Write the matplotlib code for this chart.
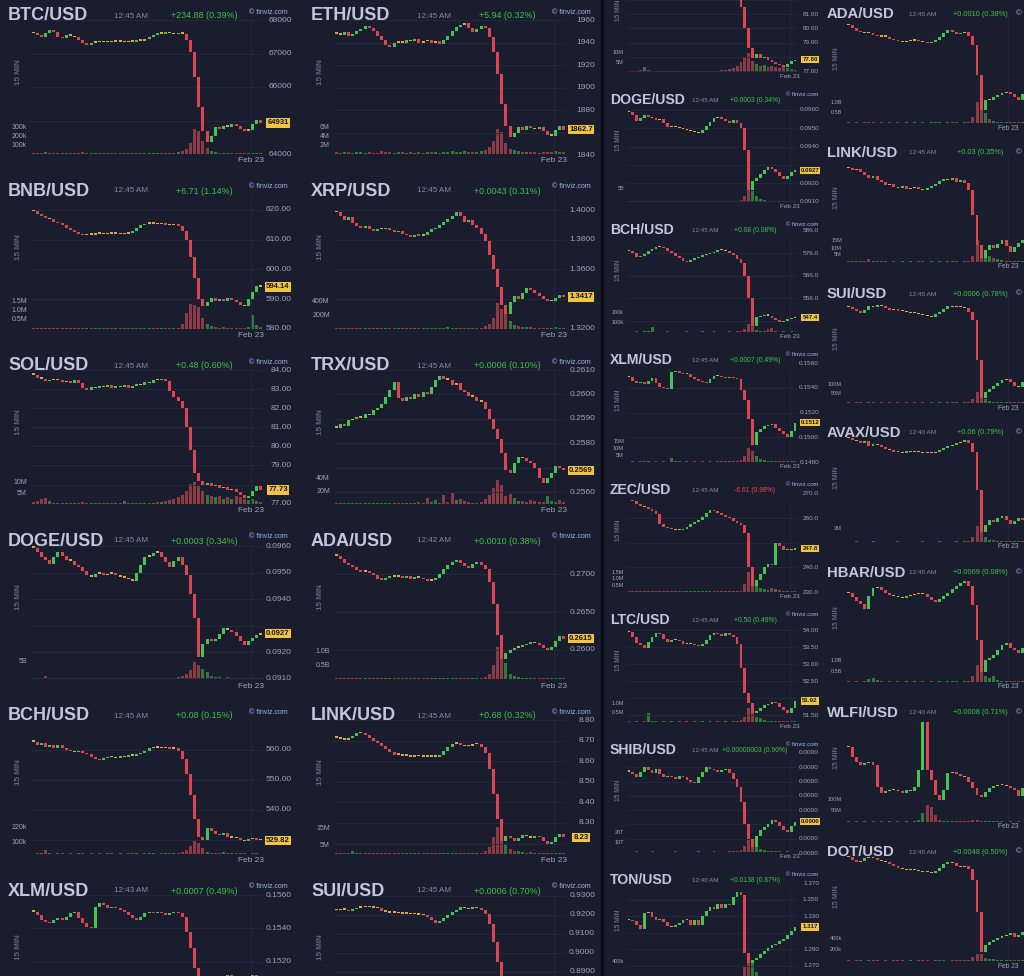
import matplotlib
matplotlib.use("Agg")
import matplotlib.pyplot as plt
from matplotlib.patches import Rectangle
from matplotlib.transforms import blended_transform_factory as blend

plt.rcParams['font.family'] = ['Liberation Sans', 'DejaVu Sans']

W, H = 1024, 976
BG = "#1a1d2e"
GRID = "#262a3f"
TITLE = "#c4c7dc"
MUTED = "#878ba3"
LABEL = "#a0a4ba"
UP, DOWN, FLAT = "#45c454", "#dc4650", "#d8aa4c"
VUP, VDOWN = "#2e7a3b", "#8e3a45"
TAG = "#f2c443"
COPY = "#a9b4e8"
POS, NEG = "#3dc24c", "#e04a4a"

# ---------------- left block : 2 columns x 6 rows, 56 candles each ----------------
btc_close = [67600, 67550, 67500, 67620, 67700, 67650,
             67500, 67450, 67550, 67520, 67480,
             67400, 67300, 67250, 67320, 67350,
             67330, 67360, 67340, 67380, 67350,
             67360, 67330, 67370, 67350, 67400,
             67380, 67420, 67500, 67550, 67620,
             67580, 67640, 67600, 67570, 67620, 67590,
             67400, 67050, 66300, 65400, 64700, 64350, 64550,
             64800, 64750, 64850, 64820, 64900, 64850,
             64750, 64700, 64720, 64900, 65000, 64931]
btc_vol = [12, 10, 15, 22, 10, 8, 10, 12, 9, 8, 10, 14, 18, 12, 10, 9, 8, 10, 12, 9,
           8, 10, 9, 12, 10, 8, 9, 10, 14, 12, 10, 9, 11, 10, 12, 18,
           30, 60, 120, 280, 260, 150, 70, 35, 20, 15, 12, 14, 10, 9, 12, 14, 10, 15, 12, 10]

eth_close = [1948, 1947, 1949, 1946, 1948, 1950,
             1952, 1955, 1953, 1950, 1946,
             1942, 1938, 1936, 1940, 1941,
             1940, 1942, 1941, 1943, 1940,
             1941, 1942, 1940, 1941, 1939,
             1942, 1946, 1950, 1954, 1956,
             1957, 1953, 1949, 1952, 1955, 1953,
             1945, 1932, 1912, 1885, 1866, 1856, 1860,
             1865, 1862, 1866, 1864, 1863, 1865,
             1861, 1858, 1857, 1862, 1866, 1862.7]
eth_vol = [0.4, 0.3, 0.5, 0.4, 0.3, 0.4, 0.5, 0.3, 0.4, 0.3, 0.3, 0.7, 0.5, 0.4, 0.3, 0.4, 0.5, 0.3, 0.4, 0.3,
           0.4, 0.3, 0.4, 0.5, 0.4, 0.3, 0.4, 0.5, 0.6, 0.5, 0.4, 0.6, 0.5, 0.4, 0.5, 0.6,
           0.8, 1.5, 3.0, 5.5, 5.0, 2.5, 1.2, 0.8, 0.6, 0.5, 0.4, 0.5, 0.4, 0.3, 0.4, 0.5, 0.4, 0.6, 0.5, 0.4]

bnb_close = [619.5, 618.8, 618.0, 617.2, 616.8, 616.0,
             615.5, 614.8, 614.0, 613.2, 612.5,
             612.0, 611.5, 611.8, 611.6, 611.9,
             612.0, 611.8, 612.1, 611.9, 612.0,
             611.8, 612.0, 612.3, 613.0, 614.0,
             614.8, 615.3, 615.6, 615.4, 615.2,
             615.5, 615.0, 614.8, 615.2, 614.5, 613.0,
             610.0, 604.0, 597.0, 590.0, 587.5, 589.0, 590.5,
             589.5, 590.0, 589.2, 590.3, 589.8, 589.0,
             588.0, 587.6, 590.0, 592.5, 594.5, 594.14]
bnb_vol = [0.05, 0.04, 0.08, 0.05, 0.04, 0.06, 0.05, 0.04, 0.05, 0.04, 0.04, 0.06, 0.05, 0.04, 0.05, 0.04,
           0.04, 0.05, 0.04, 0.04, 0.05, 0.04, 0.04, 0.05, 0.06, 0.05, 0.04, 0.05, 0.06, 0.05, 0.04, 0.05,
           0.06, 0.05, 0.05, 0.08, 0.3, 0.9, 1.4, 1.3, 1.2, 0.6, 0.3, 0.15, 0.1, 0.08, 0.1, 0.08, 0.06, 0.05,
           0.06, 0.08, 0.1, 0.8, 0.2, 0.1]

xrp_close = [1.3985, 1.3960, 1.3930, 1.3950, 1.3910, 1.3890,
             1.3880, 1.3895, 1.3870, 1.3860, 1.3875,
             1.3870, 1.3880, 1.3865, 1.3850, 1.3860,
             1.3840, 1.3830, 1.3820, 1.3835, 1.3825,
             1.3830, 1.3850, 1.3870, 1.3880, 1.3900,
             1.3920, 1.3940, 1.3960, 1.3985, 1.3960,
             1.3920, 1.3930, 1.3900, 1.3880, 1.3840, 1.3790,
             1.3700, 1.3600, 1.3480, 1.3360, 1.3300, 1.3380, 1.3420,
             1.3400, 1.3440, 1.3475, 1.3460, 1.3440, 1.3420,
             1.3400, 1.3385, 1.3390, 1.3410, 1.3430, 1.3417]
xrp_vol = [15, 12, 18, 14, 20, 12, 10, 14, 12, 10, 12, 15, 12, 10, 12, 14, 10, 12, 10, 12,
           10, 12, 14, 12, 15, 18, 20, 25, 22, 18, 15, 14, 12, 15, 18, 20,
           40, 80, 160, 380, 300, 220, 120, 60, 40, 30, 25, 30, 20, 18, 15, 20, 18, 25, 20, 15]

sol_close = [83.75, 83.60, 83.55, 83.40, 83.50, 83.45,
             83.50, 83.35, 83.40, 83.30, 83.45,
             83.30, 83.05, 82.95, 83.10, 83.05,
             83.15, 83.10, 83.20, 83.05, 83.15,
             83.10, 83.20, 83.05, 83.15, 83.25,
             83.20, 83.35, 83.30, 83.50, 83.45,
             83.55, 83.40, 82.90, 82.60, 82.40, 82.00,
             81.00, 79.80, 78.60, 78.20, 78.00, 78.10, 77.90,
             78.00, 77.80, 77.85, 77.70, 77.75, 77.60,
             77.45, 77.30, 77.40, 77.65, 77.90, 77.73]
sol_vol = [0.8, 1.5, 2.5, 2.8, 1.2, 0.6, 0.5, 0.6, 0.5, 0.4, 0.5, 0.6, 0.8, 0.6, 0.5, 0.4, 0.5, 0.4, 0.5, 0.4,
           0.5, 0.6, 1.5, 0.6, 0.5, 0.4, 0.5, 0.6, 0.5, 0.6, 0.8, 1.0, 1.5, 2.0, 2.5, 3.0,
           4.0, 6.0, 9.0, 10.0, 8.0, 6.0, 4.0, 3.5, 3.0, 3.5, 2.5, 3.0, 2.5, 3.5, 3.0, 2.5, 2.0, 2.5, 1.5, 1.0]

trx_close = [0.25865, 0.25880, 0.25870, 0.25895, 0.25900, 0.25910,
             0.25905, 0.25920, 0.25915, 0.25935, 0.25945,
             0.25960, 0.25990, 0.26020, 0.26050, 0.25985,
             0.25975, 0.25990, 0.25980, 0.26000, 0.25990,
             0.26010, 0.26000, 0.26030, 0.26060, 0.26075,
             0.26065, 0.26060, 0.26040, 0.26045, 0.26020,
             0.26010, 0.25995, 0.25990, 0.25975, 0.25970, 0.25940,
             0.25900, 0.25860, 0.25820, 0.25760, 0.25690, 0.25680, 0.25720,
             0.25745, 0.25740, 0.25730, 0.25720, 0.25700, 0.25660,
             0.25640, 0.25660, 0.25680, 0.25710, 0.25700, 0.25690]
trx_vol = [1, 1, 1.5, 1, 1, 1, 1.5, 1, 1, 1, 1, 1, 1.5, 1, 1, 1, 1, 1, 1, 2,
           3, 2, 10, 3, 6, 2, 14, 3, 18, 6, 8, 5, 3, 2, 2, 3,
           8, 15, 25, 38, 30, 12, 16, 10, 5, 4, 3, 6, 4, 3, 3, 12, 4, 3, 6, 3]

doge_close = [0.09595, 0.09580, 0.09560, 0.09550, 0.09535, 0.09560,
              0.09580, 0.09565, 0.09550, 0.09545, 0.09530,
              0.09520, 0.09505, 0.09490, 0.09485, 0.09495,
              0.09500, 0.09490, 0.09495, 0.09500, 0.09490,
              0.09485, 0.09480, 0.09475, 0.09470, 0.09500,
              0.09530, 0.09560, 0.09565, 0.09575, 0.09580,
              0.09560, 0.09540, 0.09520, 0.09545, 0.09560, 0.09530,
              0.09490, 0.09420, 0.09330, 0.09180, 0.09230, 0.09250, 0.09240,
              0.09250, 0.09270, 0.09290, 0.09285, 0.09275, 0.09260,
              0.09240, 0.09225, 0.09240, 0.09255, 0.09265, 0.09270]
doge_vol = [0.3, 0.2, 0.4, 0.8, 0.3, 0.2, 0.3, 0.2, 0.3, 0.2, 0.2, 0.3, 0.2, 0.2, 0.3, 0.2, 0.2, 0.3, 0.2, 0.2,
            0.3, 0.2, 0.2, 0.3, 0.2, 0.3, 0.4, 0.3, 0.2, 0.3, 0.3, 0.2, 0.3, 0.3, 0.4, 0.5,
            0.8, 1.5, 2.5, 5.0, 4.0, 3.0, 2.0, 1.0, 0.6, 0.5, 0.4, 0.5, 0.4, 0.3, 0.3, 0.4, 0.3, 0.4, 0.3, 0.3]

ada_close = [0.2724, 0.2720, 0.2714, 0.2712, 0.2709, 0.2705,
             0.2703, 0.2704, 0.2701, 0.2699, 0.2694,
             0.2692, 0.2695, 0.2697, 0.2696, 0.2697,
             0.2695, 0.2697, 0.2694, 0.2696, 0.2695,
             0.2693, 0.2691, 0.2692, 0.2695, 0.2700,
             0.2706, 0.2712, 0.2716, 0.2719, 0.2714,
             0.2710, 0.2708, 0.2713, 0.2716, 0.2712, 0.2706,
             0.2690, 0.2660, 0.2620, 0.2588, 0.2596, 0.2600, 0.2603,
             0.2604, 0.2606, 0.2608, 0.2610, 0.2609, 0.2607,
             0.2603, 0.2600, 0.2604, 0.2612, 0.2619, 0.2615]
ada_vol = [0.03, 0.02, 0.03, 0.02, 0.03, 0.04, 0.03, 0.02, 0.03, 0.02, 0.03, 0.02, 0.03, 0.02, 0.03, 0.02,
           0.03, 0.02, 0.03, 0.02, 0.03, 0.02, 0.03, 0.02, 0.03, 0.04, 0.03, 0.02, 0.03, 0.04, 0.03, 0.02,
           0.03, 0.04, 0.03, 0.04, 0.08, 0.2, 0.5, 1.2, 1.0, 0.6, 0.2, 0.1, 0.06, 0.05, 0.04, 0.05, 0.04, 0.03,
           0.04, 0.03, 0.04, 0.05, 0.04, 0.03]

bch_close = [562.7, 561.8, 562.3, 561.0, 561.5, 560.8,
             561.5, 560.5, 560.0, 559.5, 559.2,
             559.8, 559.0, 558.5, 557.8, 557.0,
             556.5, 557.2, 557.8, 557.5, 557.2,
             557.9, 557.6, 558.2, 558.0, 558.5,
             559.0, 559.8, 560.5, 560.8, 561.0,
             560.6, 560.9, 560.4, 560.7, 559.8, 557.0,
             552.0, 545.0, 537.0, 531.0, 530.0, 534.0, 533.0,
             532.0, 531.5, 532.2, 531.0, 530.8, 530.5,
             530.0, 529.6, 530.2, 530.5, 530.0, 529.82]
bch_vol = [4, 5, 8, 30, 6, 4, 5, 6, 4, 5, 4, 6, 5, 4, 5, 4, 5, 4, 5, 6,
           4, 5, 4, 5, 6, 5, 4, 5, 6, 5, 4, 5, 6, 5, 6, 8,
           15, 35, 70, 110, 90, 50, 20, 10, 8, 10, 20, 8, 6, 5, 6, 5, 4, 6, 5, 4]

link_close = [8.713, 8.710, 8.705, 8.712, 8.720, 8.735,
              8.738, 8.725, 8.712, 8.700, 8.690,
              8.675, 8.660, 8.645, 8.632, 8.630,
              8.625, 8.628, 8.622, 8.626, 8.624,
              8.620, 8.625, 8.622, 8.620, 8.632,
              8.650, 8.670, 8.685, 8.690, 8.678,
              8.672, 8.675, 8.682, 8.685, 8.670, 8.640,
              8.560, 8.440, 8.320, 8.215, 8.235, 8.225, 8.215,
              8.225, 8.240, 8.235, 8.228, 8.238, 8.230,
              8.215, 8.200, 8.210, 8.230, 8.245, 8.23]
link_vol = [0.4, 0.3, 0.5, 0.4, 1.5, 0.6, 0.4, 0.3, 0.4, 0.3, 0.3, 0.4, 0.3, 0.4, 0.3, 0.4, 0.3, 0.4, 0.5, 0.3,
            0.4, 0.3, 0.4, 0.3, 0.4, 0.5, 0.4, 0.3, 0.4, 0.5, 0.4, 0.5, 0.4, 0.5, 0.6, 0.8,
            1.5, 4.0, 10.0, 16.0, 13.0, 6.0, 3.0, 2.0, 1.5, 1.0, 0.8, 1.0, 0.8, 0.6, 0.5, 0.6, 0.5, 0.8, 0.6, 0.5]

xlm_close = [0.1550, 0.1548, 0.1545, 0.1544, 0.1543, 0.1545,
             0.1546, 0.1545, 0.1547, 0.1549, 0.1550,
             0.1546, 0.1543, 0.1541, 0.1540, 0.1553,
             0.1555, 0.1554, 0.1552, 0.1553, 0.1552,
             0.1551, 0.1550, 0.1548, 0.1546, 0.1545,
             0.1547, 0.1549, 0.1550, 0.1549, 0.1550,
             0.1549, 0.1548, 0.1549, 0.1550, 0.1549, 0.1547,
             0.1538, 0.1528, 0.1516, 0.1500, 0.1495, 0.1500, 0.1505,
             0.1507, 0.1508, 0.1510, 0.1512, 0.1509, 0.1507,
             0.1506, 0.1508, 0.1510, 0.1512, 0.1511, 0.1510]

sui_close = [0.9225, 0.9232, 0.9228, 0.9220, 0.9230, 0.9238,
             0.9242, 0.9240, 0.9245, 0.9238, 0.9235,
             0.9222, 0.9215, 0.9210, 0.9212, 0.9208,
             0.9205, 0.9207, 0.9204, 0.9205, 0.9200,
             0.9198, 0.9190, 0.9175, 0.9160, 0.9170,
             0.9185, 0.9200, 0.9215, 0.9228, 0.9240,
             0.9235, 0.9230, 0.9240, 0.9236, 0.9225, 0.9205,
             0.9150, 0.9060, 0.8950, 0.8820, 0.8800, 0.8820, 0.8830,
             0.8825, 0.8830, 0.8835, 0.8840, 0.8830, 0.8825,
             0.8820, 0.8825, 0.8830, 0.8840, 0.8845, 0.8842]

# ---------------- right block, column C : 44 candles each ----------------
solc_close = [83.7, 83.6, 83.5, 83.4, 83.5, 83.4, 83.3, 83.1, 83.0, 83.1,
              83.0, 83.1, 83.1, 83.2, 83.1, 83.2, 83.1, 83.2, 83.3, 83.4,
              83.5, 83.4, 83.5, 83.5, 83.4, 83.3, 83.0, 82.6, 82.2, 81.5,
              80.0, 78.6, 77.9,
              78.2, 77.9, 78.0, 77.8, 77.6, 77.5, 77.4, 77.3, 77.5, 77.7, 77.8]
solc_vol = [0.5, 0.6, 0.5, 1.2, 2.5, 1.0, 0.5, 0.4, 0.5, 0.6, 0.5, 0.4, 0.5, 0.4, 0.5, 0.4, 0.5, 0.4, 0.5, 0.4,
            0.5, 0.6, 0.5, 0.6, 0.8, 1.0, 1.5, 2.0, 3.0, 5.0, 8.0, 10.0, 6.0, 4.0,
            3.0, 3.5, 2.5, 3.0, 2.5, 2.0, 2.5, 2.0, 1.5, 1.0]

dogec_close = [0.09590, 0.09570, 0.09540, 0.09555,
               0.09570, 0.09560, 0.09555, 0.09545,
               0.09550, 0.09530, 0.09505, 0.09510,
               0.09505, 0.09500, 0.09495, 0.09490,
               0.09485, 0.09480, 0.09475, 0.09490,
               0.09510, 0.09535, 0.09555, 0.09560,
               0.09550, 0.09540, 0.09530, 0.09545,
               0.09530, 0.09500,
               0.09380, 0.09160, 0.09210,
               0.09230, 0.09250, 0.09270, 0.09290,
               0.09280, 0.09260, 0.09240, 0.09225,
               0.09240, 0.09260, 0.09270]
dogec_vol = [0.3, 0.2, 0.3, 0.4, 0.3, 0.2, 0.3, 0.2, 0.3, 0.2, 0.2, 0.3, 0.2, 0.3, 0.2, 0.3, 0.2, 0.3, 0.2, 0.3,
             0.2, 0.3, 0.4, 0.3, 0.2, 0.3, 0.2, 0.3, 0.4, 0.6, 2.0, 5.0, 4.0, 2.0,
             1.0, 0.6, 0.5, 0.4, 0.5, 0.4, 0.3, 0.4, 0.3, 0.3]

bchc_close = [577.0, 575.8, 574.3, 574.8,
              575.5, 577.0, 577.8, 578.6,
              578.7, 578.2, 577.0, 575.8,
              574.5, 573.8, 572.6, 572.0,
              572.8, 573.6, 574.3, 575.0,
              575.5, 576.0, 576.6, 577.2,
              577.3, 577.0, 576.0, 575.0,
              573.5, 571.5,
              566.0, 556.0, 543.5,
              547.5, 548.0, 548.5, 548.2,
              547.0, 546.2, 545.5, 546.0,
              546.5, 547.0, 547.4]
bchc_vol = [5, 4, 6, 5, 8, 6, 50, 5, 4, 5, 6, 5, 4, 5, 4, 10, 5, 4, 5, 6,
            4, 5, 6, 5, 4, 5, 6, 5, 6, 8, 30, 80, 60, 25,
            12, 10, 30, 40, 6, 5, 6, 5, 6, 5]

xlmc_close = [0.1549, 0.1546, 0.1544, 0.1545,
              0.1543, 0.1546, 0.1548, 0.1544,
              0.1541, 0.1540, 0.1539, 0.1553,
              0.1554, 0.1552, 0.1551, 0.1551,
              0.1549, 0.1547, 0.1546, 0.1545,
              0.1544, 0.1547, 0.1550, 0.1550,
              0.1549, 0.1548, 0.1549, 0.1548,
              0.1547, 0.1538,
              0.1530, 0.1515, 0.1494,
              0.1504, 0.1507, 0.1509, 0.1510,
              0.1511, 0.1508, 0.1505, 0.1503,
              0.1500, 0.1505, 0.1512]
xlmc_vol = [0.3, 0.4, 0.3, 0.5, 0.8, 0.4, 0.3, 0.4, 0.3, 0.4, 0.3, 3.0, 0.5, 0.4, 0.3, 0.4, 0.3, 0.4, 0.3, 0.4,
            0.3, 0.4, 0.3, 0.4, 0.5, 0.4, 0.5, 0.6, 0.8, 1.5, 4.0, 10.0, 8.0, 4.0,
            2.0, 1.5, 1.0, 0.8, 0.6, 0.5, 0.6, 0.5, 0.4, 0.5]

zecc_close = [267.7, 266.8, 265.5, 264.8,
              264.5, 263.6, 262.8, 261.5,
              257.5, 256.5, 256.0, 255.5,
              255.2, 255.0, 255.6, 256.5,
              257.5, 258.3, 259.0, 260.5,
              262.0, 263.3, 262.8, 262.0,
              261.2, 260.5, 259.8, 258.8,
              258.0, 257.0,
              254.0, 240.0, 232.5,
              235.0, 237.5, 240.3, 241.5,
              240.8, 249.8, 248.5, 247.0,
              247.5, 247.2, 247.8]
zecc_vol = [0.05, 0.04, 0.06, 0.05, 0.04, 0.05, 0.06, 0.05, 0.04, 0.05, 0.04, 0.05, 0.04, 0.05, 0.06, 0.05,
            0.04, 0.05, 0.04, 0.05, 0.06, 0.05, 0.04, 0.05, 0.06, 0.05, 0.04, 0.05, 0.06, 0.1,
            0.6, 1.5, 1.2, 0.5, 0.3, 0.2, 0.15, 0.3, 0.2, 0.15, 0.1, 0.08, 0.06, 0.05]

ltcc_close = [53.94, 53.80, 53.62, 53.55,
              53.47, 53.65, 53.80, 53.92,
              53.88, 53.75, 53.65, 53.70,
              53.72, 53.68, 53.60, 53.58,
              53.59, 53.55, 53.52, 53.58,
              53.70, 53.85, 53.92, 53.88,
              53.82, 53.90, 53.86, 53.80,
              53.60, 52.90,
              52.15, 51.85, 51.56,
              51.62, 51.70, 51.80, 51.84,
              51.88, 51.85, 51.75, 51.65,
              51.56, 51.70, 51.92]
ltcc_vol = [0.03, 0.02, 0.03, 0.02, 0.03, 0.5, 0.04, 0.03, 0.02, 0.03, 0.02, 0.03, 0.02, 0.03, 0.02, 0.03,
            0.02, 0.03, 0.02, 0.03, 0.02, 0.03, 0.02, 0.03, 0.02, 0.03, 0.02, 0.03, 0.04, 0.1,
            0.3, 0.8, 0.6, 0.3, 0.2, 0.1, 0.08, 0.06, 0.05, 0.04, 0.05, 0.04, 0.03, 0.04]

shibc_close = [0.00001587, 0.00001585, 0.00001583, 0.00001587,
               0.00001590, 0.00001588, 0.00001586, 0.00001589,
               0.00001585, 0.00001583, 0.00001584, 0.00001583,
               0.00001582, 0.00001584, 0.00001583, 0.00001581,
               0.00001580, 0.00001579, 0.00001583, 0.00001587,
               0.00001590, 0.00001589, 0.00001588, 0.00001587,
               0.00001588, 0.00001589, 0.00001586, 0.00001582,
               0.00001576, 0.00001566,
               0.00001550, 0.00001540, 0.00001534,
               0.00001542, 0.00001546, 0.00001548, 0.00001550,
               0.00001553, 0.00001552, 0.00001549, 0.00001546,
               0.00001545, 0.00001549, 0.00001552]
shibc_vol = [0.5, 0.4, 0.6, 0.5, 0.4, 0.5, 0.6, 0.5, 0.4, 0.5, 0.4, 0.5, 0.6, 0.5, 0.4, 0.5, 0.4, 0.5, 0.6, 0.5,
             0.4, 0.5, 0.6, 0.5, 0.4, 0.5, 0.6, 0.8, 1.0, 2.0, 6.0, 12.0, 10.0, 5.0,
             3.0, 2.0, 1.5, 1.0, 0.8, 0.6, 0.5, 0.6, 0.5, 0.4]

tonc_close = [1.3254, 1.3240, 1.3200, 1.3140,
              1.3340, 1.3350, 1.3290, 1.3250,
              1.3270, 1.3230, 1.3180, 1.3170,
              1.3190, 1.3220, 1.3250, 1.3260,
              1.3200, 1.3260, 1.3200, 1.3300,
              1.3360, 1.3410, 1.3390, 1.3450,
              1.3400, 1.3450, 1.3430, 1.3530,
              1.3590, 1.3560,
              1.2860, 1.2740, 1.2770,
              1.2800, 1.2850, 1.2880, 1.2917,
              1.2950, 1.2970, 1.3000, 1.3030,
              1.3070, 1.3120, 1.3170]
tonc_vol = [20, 15, 25, 20, 15, 20, 25, 20, 15, 20, 15, 20, 25, 20, 15, 20, 15, 20, 25, 20,
            15, 20, 25, 20, 15, 20, 25, 30, 40, 60, 300, 500, 400, 200,
            100, 80, 60, 50, 40, 30, 25, 30, 25, 20]

# ---------------- right block, column D (cut at the right edge) ----------------
adad_close = [0.2720, 0.2715, 0.2711, 0.2709,
              0.2708, 0.2707, 0.2705, 0.2703,
              0.2702, 0.2702, 0.2699, 0.2697,
              0.2695, 0.2694, 0.2695, 0.2696,
              0.2697, 0.2695, 0.2694, 0.2692,
              0.2694, 0.2697, 0.2702, 0.2708,
              0.2712, 0.2709, 0.2706, 0.2708,
              0.2709, 0.2703,
              0.2689, 0.2643, 0.2590,
              0.2605, 0.2605, 0.2610, 0.2613,
              0.2616, 0.2617, 0.2614, 0.2610,
              0.2605, 0.2614, 0.2620]
adad_vol = [0.03, 0.02, 0.03, 0.02, 0.03, 0.04, 0.03, 0.02, 0.03, 0.02, 0.03, 0.02, 0.03, 0.02, 0.03, 0.02,
            0.03, 0.02, 0.03, 0.02, 0.03, 0.04, 0.03, 0.02, 0.03, 0.04, 0.03, 0.02, 0.03, 0.05,
            0.3, 1.0, 0.9, 0.5, 0.2, 0.1, 0.06, 0.05, 0.04, 0.03, 0.04, 0.03, 0.04, 0.03]

linkd_close = [8.735, 8.725, 8.730, 8.715,
               8.700, 8.685, 8.695, 8.675,
               8.665, 8.650, 8.655, 8.640,
               8.635, 8.645, 8.630, 8.635,
               8.640, 8.630, 8.625, 8.635,
               8.645, 8.655, 8.670, 8.680,
               8.675, 8.685, 8.665, 8.675,
               8.660, 8.625,
               8.500, 8.350, 8.285,
               8.325, 8.350, 8.335, 8.355,
               8.375, 8.345, 8.315, 8.340,
               8.360, 8.375, 8.385]
linkd_vol = [0.5, 0.4, 0.6, 0.5, 0.4, 2.0, 0.5, 0.4, 0.5, 0.4, 0.3, 0.4, 0.3, 0.4, 0.3, 0.4, 0.3, 0.4, 0.5, 0.3,
             0.4, 0.3, 0.4, 0.3, 0.4, 0.5, 0.4, 0.3, 0.4, 0.8, 4.0, 16.0, 12.0, 6.0,
             4.0, 3.0, 2.0, 1.5, 1.0, 0.8, 0.6, 0.5, 0.6, 0.5]

suid_close = [0.9289, 0.9279, 0.9268, 0.9258,
              0.9274, 0.9295, 0.9289, 0.9300,
              0.9295, 0.9284, 0.9274, 0.9279,
              0.9268, 0.9268, 0.9263, 0.9258,
              0.9258, 0.9253, 0.9247, 0.9242,
              0.9237, 0.9253, 0.9263, 0.9279,
              0.9295, 0.9289, 0.9295, 0.9289,
              0.9284, 0.9263,
              0.9221, 0.9011, 0.8811,
              0.8842, 0.8858, 0.8874, 0.8889,
              0.8905, 0.8911, 0.8895, 0.8874,
              0.8868, 0.8895, 0.8905]
suid_vol = [3, 2, 4, 3, 2, 6, 3, 2, 3, 2, 3, 2, 3, 2, 3, 2, 3, 2, 3, 2,
            3, 2, 3, 2, 3, 4, 3, 2, 3, 5, 20, 60, 45, 20,
            10, 8, 6, 5, 4, 3, 4, 3, 4, 3]

avaxd_close = [19.08, 19.00, 18.96, 18.88,
               18.96, 18.76, 18.84, 18.80,
               18.72, 18.64, 18.60, 18.52,
               18.52, 18.48, 18.56, 18.52,
               18.56, 18.52, 18.48, 18.52,
               18.48, 18.52, 18.60, 18.68,
               18.76, 18.80, 18.88, 18.92,
               19.00, 18.88,
               18.52, 17.00, 15.32,
               15.60, 15.80, 15.72, 15.88,
               15.96, 15.80, 15.64, 15.76,
               15.88, 15.80, 15.72]
avaxd_vol = [0.1, 0.08, 0.12, 0.1, 0.08, 0.1, 0.12, 0.1, 0.08, 0.1, 0.08, 0.1, 0.12, 0.1, 0.08, 0.1,
             0.08, 0.1, 0.12, 0.1, 0.08, 0.1, 0.12, 0.1, 0.08, 0.1, 0.12, 0.1, 0.15, 0.2,
             1.0, 3.5, 2.5, 1.0, 0.5, 0.4, 0.3, 0.25, 0.2, 0.15, 0.2, 0.15, 0.12, 0.1]

hbard_close = [0.2374, 0.2366, 0.2358, 0.2352,
               0.2342, 0.2368, 0.2384, 0.2386,
               0.2380, 0.2374, 0.2370, 0.2368,
               0.2366, 0.2364, 0.2368, 0.2370,
               0.2372, 0.2374, 0.2372, 0.2366,
               0.2360, 0.2356, 0.2362, 0.2368,
               0.2374, 0.2382, 0.2388, 0.2394,
               0.2398, 0.2388,
               0.2350, 0.2280, 0.2216,
               0.2240, 0.2244, 0.2250, 0.2260,
               0.2270, 0.2274, 0.2264, 0.2260,
               0.2254, 0.2264, 0.2276]
hbard_vol = [0.03, 0.02, 0.03, 0.02, 0.05, 0.15, 0.2, 0.08, 0.03, 0.02, 0.03, 0.02, 0.03, 0.02, 0.03, 0.02,
             0.03, 0.02, 0.03, 0.02, 0.03, 0.02, 0.03, 0.02, 0.03, 0.04, 0.03, 0.02, 0.03, 0.05,
             0.3, 0.8, 0.6, 0.3, 0.2, 0.3, 0.1, 0.06, 0.05, 0.04, 0.04, 0.03, 0.04, 0.03]

wlfid_close = [0.1365, 0.1315, 0.1290, 0.1275,
               0.1285, 0.1290, 0.1275, 0.1165,
               0.1135, 0.1145, 0.1150, 0.1150,
               0.1145, 0.1135, 0.1150, 0.1145,
               0.1165, 0.1250, 0.1490, 0.1250,
               0.1200, 0.1125, 0.1100, 0.1150,
               0.1235, 0.1240, 0.1230, 0.1220,
               0.1215, 0.1190,
               0.1160, 0.1125, 0.1115,
               0.1140, 0.1160, 0.1170, 0.1175,
               0.1175, 0.1170, 0.1160, 0.1150,
               0.1120, 0.1160, 0.1175]
wlfid_vol = [3, 2, 3, 2, 3, 2, 3, 2, 3, 2, 3, 2, 3, 2, 3, 2, 5, 10, 40, 75,
             70, 30, 8, 5, 4, 3, 4, 3, 3, 5, 8, 10, 6, 5,
             4, 3, 4, 3, 2, 3, 2, 3, 2, 3]

dotd_close = [4.800, 4.785, 4.775, 4.780,
              4.795, 4.800, 4.795, 4.785,
              4.780, 4.775, 4.765, 4.755,
              4.745, 4.740, 4.735, 4.740,
              4.735, 4.730, 4.725, 4.725,
              4.720, 4.730, 4.745, 4.765,
              4.775, 4.770, 4.755, 4.750,
              4.755, 4.740,
              4.685, 4.525, 4.325,
              4.360, 4.375, 4.385, 4.395,
              4.405, 4.410, 4.420, 4.400,
              4.410, 4.425, 4.435]
dotd_vol = [10, 8, 12, 10, 8, 10, 12, 10, 8, 10, 8, 10, 12, 10, 8, 10, 8, 10, 12, 10,
            8, 10, 12, 10, 8, 10, 12, 10, 15, 20, 80, 130, 120, 60,
            40, 30, 25, 20, 15, 12, 15, 12, 10, 10]

# layout of the three panel sizes, in pixels relative to the panel origin
LAYOUT = {
    "big": dict(cx=30, cw=232, top=20, bot=154, title=(7, 16, 13), time=(130, 16, 5.8),
                chg=(203, 16, 6.4), copy=(267, 12, 5.0), lab=291, labfs=6.0, tag=277, tagfs=5.6,
                mins=(17, 72, 5.8), vlab=26, vfs=5.0, feb=(250, 161), febfs=6.0),
    "small": dict(cx=22, cw=170, top=10, bot=102, title=(5, 0, 10.1), time=(100, 0, 4.5),
                  chg=(150, 0, 4.9), copy=(197, -5, 4.2), lab=214, labfs=4.6, tag=205, tagfs=4.4,
                  mins=(13, 40, 4.8), vlab=19, vfs=4.0, feb=(185, 107), febfs=4.6),
    "side": dict(cx=24, cw=183, top=4, bot=109, title=(5, 0, 10.7), time=(101, 0, 4.6),
                 chg=(158, 0, 5.3), copy=(194, 0, 4.6), lab=None, labfs=5, tag=None, tagfs=5,
                 mins=(15, 45, 5.0), vlab=20, vfs=4.0, feb=(186, 114), febfs=4.8),
}

fig = plt.figure(figsize=(W / 100, H / 100), dpi=100, facecolor=BG)


def rect(x, y, w, h):
    return [x / W, 1 - (y + h) / H, w / W, h / H]


def ftext(x, y, s, **kw):
    fig.text(x / W, 1 - y / H, s, **kw)


def panel(kind, x0, y0, name, clock, change, closes, lims, ticks, fmt, tagfmt,
          vol=None, vmax=1, vticks=(), neg=False, header=True):
    L = LAYOUT[kind]
    n = len(closes)
    hpx = L['bot'] - L['top']
    r = rect(x0 + L['cx'], y0 + L['top'], L['cw'], hpx)
    opens = [closes[0]] + list(closes[:-1])
    span = lims[1] - lims[0]

    def ypix(v):  # pixel row of a price, only used to skip labels off the canvas
        return y0 + L['top'] + (lims[1] - v) / span * hpx

    if vol is not None:
        vax = fig.add_axes(r)
        vax.set_axis_off()
        vax.set_xlim(-0.5, n - 0.5)
        vax.set_ylim(0, vmax)
        vcol = [VUP if c > o else VDOWN for o, c in zip(opens, closes)]
        vax.bar(range(n), vol, width=0.72, color=vcol, linewidth=0)
        vt = blend(vax.transAxes, vax.transData)
        vx = (L['vlab'] - L['cx']) / L['cw']
        for v, s in vticks:
            if y0 + L['bot'] - v / vmax * hpx < H - 4:
                vax.text(vx, v, s, transform=vt, ha='right', va='center', fontsize=L['vfs'],
                         color=LABEL, clip_on=False)

    ax = fig.add_axes(r)
    ax.set_axis_off()
    ax.set_xlim(-0.5, n - 0.5)
    ax.set_ylim(*lims)
    for t in ticks:
        ax.axhline(t, color=GRID, lw=0.6, zorder=0)
    febx = -0.5 + (L['feb'][0] - L['cx']) / L['cw'] * n
    ax.axvline(febx, color=GRID, lw=0.6, zorder=0)

    # candles: open = previous close
    cols, lows, hts = [], [], []
    for o, c in zip(opens, closes):
        d = c - o
        if abs(d) < 0.011 * span:
            cols.append(FLAT)
        else:
            cols.append(UP if d > 0 else DOWN)
        lows.append(min(o, c))
        hts.append(max(abs(d), 0.012 * span))
    ax.bar(range(n), hts, bottom=lows, width=0.7, color=cols, linewidth=0, zorder=3)

    tr = blend(ax.transAxes, ax.transData)
    if L['lab'] is not None:
        last = closes[-1]
        tag_on = ypix(last) < H - 12
        lx = (L['lab'] - L['cx']) / L['cw']
        for t in ticks:
            if ypix(t) < 4 or ypix(t) > H - 4:
                continue
            if tag_on and abs(ypix(t) - ypix(last)) < 9:
                continue  # hidden under the price tag
            ax.text(lx, t, fmt.format(t), transform=tr, ha='right', va='center',
                    fontsize=L['labfs'], color=LABEL, clip_on=False, zorder=2)
        if tag_on:
            tx = (L['tag'] - L['cx']) / L['cw']
            ax.text(tx, last, tagfmt.format(last), transform=tr, ha='center', va='center',
                    fontsize=L['tagfs'], fontweight='bold', color="#14151c", clip_on=False, zorder=6,
                    bbox=dict(boxstyle='square,pad=0.18', fc=TAG, ec='none'))

    if header:
        tx_, ty_, tfs = L['title']
        ftext(x0 + tx_, y0 + ty_, name, ha='left', va='center', fontsize=tfs,
              fontweight='bold', color=TITLE)
        ftext(x0 + L['time'][0], y0 + L['time'][1], clock, ha='center', va='center',
              fontsize=L['time'][2], color=MUTED)
        ftext(x0 + L['chg'][0], y0 + L['chg'][1], change, ha='center', va='center',
              fontsize=L['chg'][2], color=NEG if neg else POS)
        if kind == "side":
            ftext(x0 + L['copy'][0], y0 + L['copy'][1], "\u00a9", ha='left', va='center',
                  fontsize=L['copy'][2] + 1, color=COPY)
        else:
            ftext(x0 + L['copy'][0], y0 + L['copy'][1], "\u00a9 finviz.com", ha='center',
                  va='center', fontsize=L['copy'][2], color=COPY)
    if y0 + L['mins'][1] + 20 < H:
        ftext(x0 + L['mins'][0], y0 + L['mins'][1], "15 MIN", rotation=90, ha='center',
              va='center', fontsize=L['mins'][2], fontweight='bold', color="#62667e")
    if y0 + L['feb'][1] < H - 4:
        ftext(x0 + L['feb'][0], y0 + L['feb'][1], "Feb 23", ha='center', va='center',
              fontsize=L['febfs'], color=LABEL)


# ---- left block ----
C0, C1 = 1, 304
panel("big", C0, 0, "BTC/USD", "12:45 AM", "+234.88 (0.39%)", btc_close, (64000, 68000),
      [68000, 67000, 66000, 65000, 64000], "{:.0f}", "{:.0f}",
      btc_vol, 1490, [(300, "300k"), (200, "200k"), (100, "100k")])
panel("big", C1, 0, "ETH/USD", "12:45 AM", "+5.94 (0.32%)", eth_close, (1841, 1960),
      [1960, 1940, 1920, 1900, 1880, 1860, 1840], "{:.0f}", "{:.1f}",
      eth_vol, 29.8, [(6, "6M"), (4, "4M"), (2, "2M")])
panel("big", C0, 175, "BNB/USD", "12:45 AM", "+6.71 (1.14%)", bnb_close, (579.9, 625.05),
      [620, 610, 600, 590, 580], "{:.2f}", "{:.2f}",
      bnb_vol, 7.4, [(1.5, "1.5M"), (1.0, "1.0M"), (0.5, "0.5M")])
panel("big", C1, 175, "XRP/USD", "12:45 AM", "+0.0043 (0.31%)", xrp_close, (1.3199, 1.4101),
      [1.40, 1.38, 1.36, 1.34, 1.32], "{:.4f}", "{:.4f}",
      xrp_vol, 1985, [(400, "400M"), (200, "200M")])
panel("big", C0, 350, "SOL/USD", "12:45 AM", "+0.48 (0.60%)", sol_close, (76.98, 84.0),
      [84, 83, 82, 81, 80, 79, 78, 77], "{:.2f}", "{:.2f}",
      sol_vol, 61, [(10, "10M"), (5, "5M")])
panel("big", C1, 350, "TRX/USD", "12:45 AM", "+0.0006 (0.10%)", trx_close, (0.25553, 0.2610),
      [0.2610, 0.2600, 0.2590, 0.2580, 0.2570, 0.2560], "{:.4f}", "{:.4f}",
      trx_vol, 214, [(40, "40M"), (20, "20M")])
panel("big", C0, 525, "DOGE/USD", "12:45 AM", "+0.0003 (0.34%)", doge_close, (0.09098, 0.09605),
      [0.0960, 0.0950, 0.0940, 0.0930, 0.0920, 0.0910], "{:.4f}", "{:.4f}",
      doge_vol, 39, [(5, "5B")])
panel("big", C1, 525, "ADA/USD", "12:42 AM", "+0.0010 (0.38%)", ada_close, (0.25618, 0.27382),
      [0.2700, 0.2650, 0.2600], "{:.4f}", "{:.4f}",
      ada_vol, 4.96, [(1.0, "1.0B"), (0.5, "0.5B")])
panel("big", C0, 700, "BCH/USD", "12:45 AM", "+0.08 (0.15%)", bch_close, (525.3, 570.0),
      [560, 550, 540, 530], "{:.2f}", "{:.2f}",
      bch_vol, 1117, [(220, "220k"), (100, "100k")])
panel("big", C1, 700, "LINK/USD", "12:45 AM", "+0.68 (0.32%)", link_close, (8.1495, 8.80),
      [8.80, 8.70, 8.60, 8.50, 8.40, 8.30, 8.20], "{:.2f}", "{:.2f}",
      link_vol, 79, [(15, "15M"), (5, "5M")])
panel("big", C0, 875, "XLM/USD", "12:43 AM", "+0.0007 (0.49%)", xlm_close, (0.14794, 0.15601),
      [0.1560, 0.1540, 0.1520], "{:.4f}", "{:.4f}")
panel("big", C1, 875, "SUI/USD", "12:45 AM", "+0.0006 (0.70%)", sui_close, (0.86, 0.9305),
      [0.93, 0.92, 0.91, 0.90, 0.89], "{:.4f}", "{:.4f}")

# ---- right block, column C ----
CC = 605
panel("small", CC, -30, "SOL/USD", "", "", solc_close, (76.93, 83.41),
      [82, 81, 80, 79, 78, 77], "{:.2f}", "{:.2f}",
      solc_vol, 48, [(10, "10M"), (5, "5M")], header=False)
panel("small", CC, 100, "DOGE/USD", "12:45 AM", "+0.0003 (0.34%)", dogec_close, (0.09097, 0.0960),
      [0.0960, 0.0950, 0.0940, 0.0930, 0.0920, 0.0910], "{:.4f}", "{:.4f}",
      dogec_vol, 33, [(5, "5B")])
panel("small", CC, 230, "BCH/USD", "12:45 AM", "+0.08 (0.08%)", bchc_close, (540.89, 581.78),
      [586, 576, 566, 556, 546], "{:.1f}", "{:.1f}",
      bchc_vol, 920, [(200, "200k"), (100, "100k")])
panel("small", CC, 360, "XLM/USD", "12:45 AM", "+0.0007 (0.49%)", xlmc_close, (0.148008, 0.155457),
      [0.1560, 0.1540, 0.1520, 0.1500, 0.1480], "{:.4f}", "{:.4f}",
      xlmc_vol, 66, [(15, "15M"), (10, "10M"), (5, "5M")])
panel("small", CC, 490, "ZEC/USD", "12:45 AM", "-6.61 (0.98%)", zecc_close, (230.04, 267.29),
      [270, 260, 250, 240, 230], "{:.1f}", "{:.1f}",
      zecc_vol, 6.9, [(1.5, "1.5M"), (1.0, "1.0M"), (0.5, "0.5M")], neg=True)
panel("small", CC, 620, "LTC/USD", "12:45 AM", "+0.50 (0.49%)", ltcc_close, (51.303, 54.0),
      [54.0, 53.5, 53.0, 52.5, 52.0, 51.5], "{:.2f}", "{:.2f}",
      ltcc_vol, 5.1, [(1.0, "1.0M"), (0.5, "0.5M")])
panel("small", CC, 750, "SHIB/USD", "12:45 AM", "+0.00000003 (0.90%)", shibc_close,
      (0.0000153077, 0.0000159510),
      [0.00001600, 0.00001590, 0.00001580, 0.00001570, 0.00001560, 0.00001550, 0.00001540, 0.00001530],
      "{:.4f}", "{:.4f}", shibc_vol, 92, [(20, "20T"), (10, "10T")])
panel("small", CC, 880, "TON/USD", "12:40 AM", "+0.0138 (0.87%)", tonc_close, (1.25072, 1.36157),
      [1.370, 1.350, 1.330, 1.310, 1.290, 1.270], "{:.3f}", "{:.3f}",
      tonc_vol, 1840, [(400, "400k"), (200, "200k")])

# ---- right block, column D ----
CD = 822
panel("side", CD, 14, "ADA/USD", "12:45 AM", "+0.0010 (0.38%)", adad_close, (0.25697, 0.27307),
      [], "{:.4f}", "{:.4f}", adad_vol, 5, [(1.0, "1.0B"), (0.5, "0.5B")])
panel("side", CD, 153, "LINK/USD", "12:45 AM", "+0.03 (0.35%)", linkd_close, (8.265, 8.79),
      [], "{:.2f}", "{:.2f}", linkd_vol, 75, [(15, "15M"), (10, "10M"), (5, "5M")])
panel("side", CD, 294, "SUI/USD", "12:45 AM", "+0.0006 (0.78%)", suid_close, (0.87842, 0.93368),
      [], "{:.4f}", "{:.4f}", suid_vol, 583, [(100, "100M"), (50, "50M")])
panel("side", CD, 433, "AVAX/USD", "12:40 AM", "+0.06 (0.79%)", avaxd_close, (14.92, 19.12),
      [], "{:.2f}", "{:.2f}", avaxd_vol, 22.5, [(3, "3M")])
panel("side", CD, 573, "HBAR/USD", "12:45 AM", "+0.0069 (0.08%)", hbard_close, (0.2196, 0.2406),
      [], "{:.4f}", "{:.4f}", hbard_vol, 5, [(1.0, "1.0B"), (0.5, "0.5B")])
panel("side", CD, 713, "WLFI/USD", "12:40 AM", "+0.0008 (0.71%)", wlfid_close, (0.099, 0.1515),
      [], "{:.4f}", "{:.4f}", wlfid_vol, 477, [(100, "100M"), (50, "50M")])
panel("side", CD, 852, "DOT/USD", "12:45 AM", "+0.0048 (0.50%)", dotd_close, (4.28, 4.805),
      [], "{:.3f}", "{:.3f}", dotd_vol, 1909, [(400, "400k"), (200, "200k")])

# divider between the two screenshots
fig.add_artist(Rectangle((601 / W, 0), 3 / W, 1, transform=fig.transFigure,
                         facecolor="#0a0c14", edgecolor='none'))

fig.savefig("out.png", dpi=100, facecolor=BG)
